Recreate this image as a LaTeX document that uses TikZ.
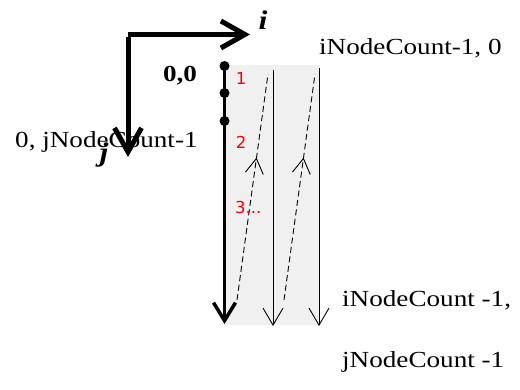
\documentclass[tikz,border=0pt]{standalone}
\usepackage{fontspec}
\setmainfont[FakeStretch=1.18]{Liberation Serif}
\newfontfamily\redfont{DejaVu Sans}
\usetikzlibrary{arrows.meta,decorations.markings}
\tikzset{
  axis/.style={line width=5pt,-{Straight Barb[length=24pt,width=27pt,line width=5pt]}},
  mainline/.style={line width=3.5pt,-{Straight Barb[length=18pt,width=22pt,line width=3.5pt]}},
  thinline/.style={line width=0.9pt,-{Straight Barb[length=17pt,width=20pt,line width=0.9pt]}},
  dashline/.style={line width=0.9pt,dash pattern=on 6pt off 3.5pt,
    postaction={decorate},decoration={markings,mark=at position 0.63 with {\arrow[line width=0.9pt]{Straight Barb[length=15pt,width=18pt]}}}},
  dot/.style={circle,fill=black,inner sep=0pt,minimum size=10pt},
  lbl/.style={font=\fontsize{23}{25}\selectfont,inner sep=0pt},
  red lbl/.style={font=\redfont\fontsize{16.5}{18}\selectfont,text=red,inner sep=0pt},
}
\begin{document}
\begin{tikzpicture}[x=1pt,y=-1pt]
\useasboundingbox (0,0) rectangle (520,390);
% background panel
\fill[black!6] (223,65) rectangle (320,325);
% texts
\node[lbl,anchor=base west] (topright) at (319,55) {iNodeCount-1, 0};
\node[lbl,anchor=base,font=\bfseries\fontsize{23}{25}\selectfont] (origin) at (180,82) {0,0};
\node[lbl,anchor=base west] (leftlbl) at (15,148) {0, jNodeCount-1};
\node[lbl,anchor=base west] (br1) at (342,307) {iNodeCount -1,};
\node[lbl,anchor=base west] (br2) at (342,367) {jNodeCount -1};
% axes
\coordinate (corner) at (128,34.5);
\coordinate (itip) at (250,34.5);
\coordinate (jtip) at (128,157);
\draw[axis] (corner) -- (itip);
\draw[axis] ([yshift=-2.5pt]corner) -- (jtip);
\node[lbl,anchor=base,font=\bfseries\itshape\fontsize{27}{29}\selectfont] (ilbl) at (263,30) {i};
\node[lbl,anchor=base,font=\bfseries\itshape\fontsize{27}{29}\selectfont] (jlbl) at (104,162) {j};
% main thick line with dots
\coordinate (m0) at (224.5,66);
\coordinate (mend) at (224.5,324);
\draw[mainline] (m0) -- (mend);
\node[dot] (d1) at (224.5,66) {};
\node[dot] (d2) at (224.5,93) {};
\node[dot] (d3) at (224.5,121) {};
% thin lines
\coordinate (t1a) at (273,70);
\coordinate (t1b) at (273,326);
\coordinate (t2a) at (319,68);
\coordinate (t2b) at (319,326);
\draw[thinline] (t1a) -- (t1b);
\draw[thinline] (t2a) -- (t2b);
% dashed return lines
\coordinate (r1a) at (237,300);
\coordinate (r1b) at (268,74);
\coordinate (r2a) at (284,300);
\coordinate (r2b) at (315,74);
\draw[dashline] (r1a) -- (r1b);
\draw[dashline] (r2a) -- (r2b);
% red labels
\node[red lbl] (n1) at (241,78) {1};
\node[red lbl] (n2) at (241,142) {2};
\node[red lbl,anchor=west] (n3) at (235,207) {3...};
\end{tikzpicture}
\end{document}
